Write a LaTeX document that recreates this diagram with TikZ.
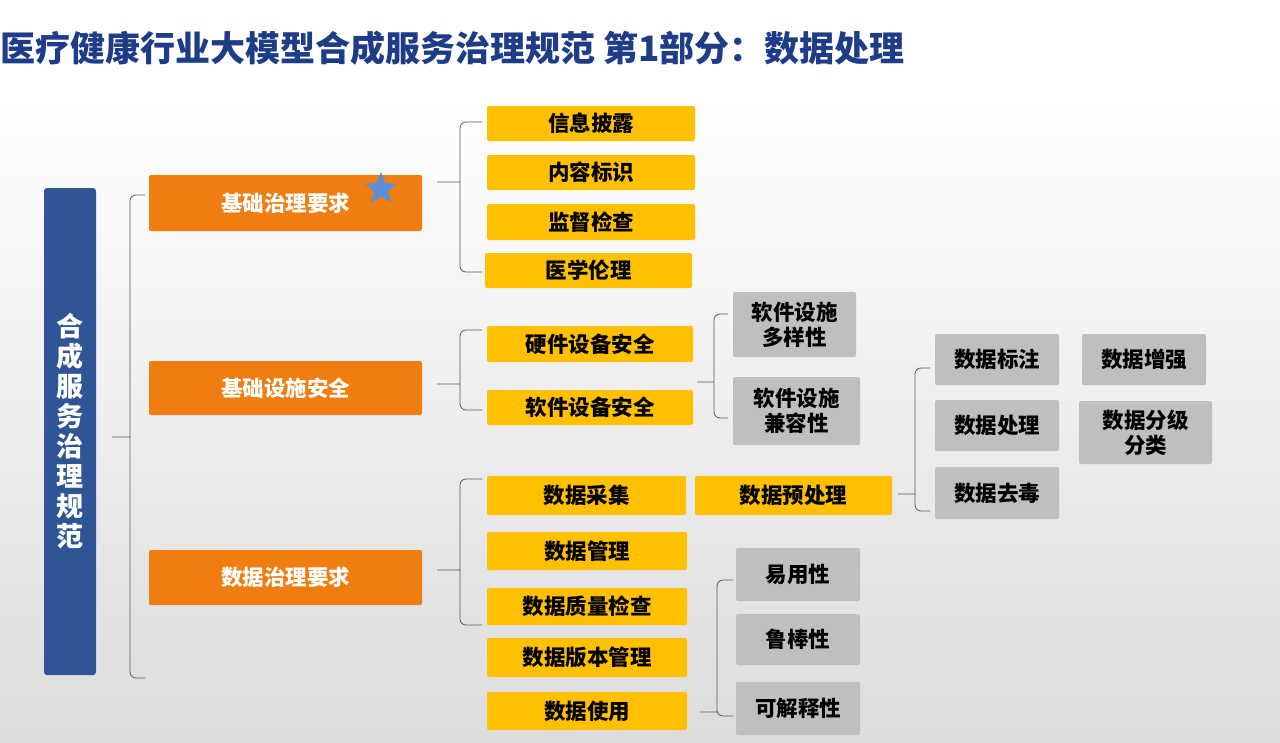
\documentclass[tikz,border=0pt]{standalone}
\usepackage{fontspec}
\setmainfont{Noto Sans CJK SC}
\usetikzlibrary{positioning,shapes.geometric}
\definecolor{titleblue}{HTML}{1F3C88}
\definecolor{barblue}{HTML}{2F5597}
\definecolor{orng}{HTML}{EF7D0F}
\definecolor{yel}{HTML}{FFC000}
\definecolor{gry}{HTML}{BFBFBF}
\definecolor{bgray}{HTML}{DCDCDC}
\definecolor{lnc}{HTML}{595959}
\definecolor{starblue}{HTML}{5B8FD9}
% box from corner (x1,y1) to (x2,y2)
\newcommand{\bx}[7]{\node[#1,minimum width=#4-#2,minimum height=#5-#3] (#6) at ({(#2+#4)/2},{(#3+#5)/2}) {#7};}
% bracket: tip x, tip y, line x, top y, bottom y, end x
\newcommand{\brc}[6]{\draw[bline] (#6,#4) -- (#3,#4) -- (#3,#5) -- (#6,#5) (#3,#2) -- (#1,#2);}
\begin{document}
\begin{tikzpicture}[x=1pt,y=-1pt,
  base/.style={rounded corners=2pt,inner sep=0pt,align=center,font=\bfseries\fontsize{21.5}{25}\selectfont},
  topic/.style={base,fill=orng,text=white},
  item/.style={base,fill=yel,text=black},
  leaf/.style={base,fill=gry,text=black},
  bline/.style={draw=lnc,line width=0.8pt,rounded corners=6pt}]

  \useasboundingbox (0,0) rectangle (1280,742);
  \fill[white] (0,0) rectangle (1280,742);
  \shade[top color=white,bottom color=bgray] (0,95) rectangle (1280,742);

  \node[anchor=west,inner sep=0pt,text=titleblue,font=\bfseries\fontsize{35}{38}\selectfont] (title) at (0,48) {医疗健康行业大模型合成服务治理规范 第1部分：数据处理};

  \fill[barblue,rounded corners=3pt] (44,188) rectangle (96,675);
  \node[text=white,align=center,font=\bfseries\fontsize{27}{30}\selectfont] (root) at (70,431) {合\\成\\服\\务\\治\\理\\规\\范};

  \bx{topic}{149}{175}{422}{231}{t1}{基础治理要求}
  \bx{topic}{149}{361}{422}{415}{t2}{基础设施安全}
  \bx{topic}{149}{550}{422}{605}{t3}{数据治理要求}
  \node[star,star points=5,star point ratio=2.3,fill=starblue,inner sep=0pt,minimum size=34pt] (star) at (381,189) {};

  \bx{item}{487}{106}{695}{141}{i1}{信息披露}
  \bx{item}{487}{155}{695}{190}{i2}{内容标识}
  \bx{item}{487}{204}{695}{240}{i3}{监督检查}
  \bx{item}{485}{253}{692}{288}{i4}{医学伦理}
  \bx{item}{487}{326}{693}{362}{i5}{硬件设备安全}
  \bx{item}{487}{390}{693}{425}{i6}{软件设备安全}
  \bx{item}{487}{476}{686}{515}{i7}{数据采集}
  \bx{item}{695}{476}{892}{515}{i8}{数据预处理}
  \bx{item}{487}{532}{687}{570}{i9}{数据管理}
  \bx{item}{487}{588}{687}{625}{i10}{数据质量检查}
  \bx{item}{487}{638}{687}{677}{i11}{数据版本管理}
  \bx{item}{487}{692}{687}{730}{i12}{数据使用}

  \bx{leaf}{733}{292}{856}{357}{g1}{软件设施\\多样性}
  \bx{leaf}{733}{377}{860}{445}{g2}{软件设施\\兼容性}
  \bx{leaf}{935}{334}{1059}{385}{g3}{数据标注}
  \bx{leaf}{935}{400}{1059}{451}{g4}{数据处理}
  \bx{leaf}{935}{467}{1059}{519}{g5}{数据去毒}
  \bx{leaf}{1082}{334}{1206}{385}{g6}{数据增强}
  \bx{leaf}{1079}{401}{1212}{464}{g7}{数据分级\\分类}
  \bx{leaf}{736}{548}{860}{601}{g8}{易用性}
  \bx{leaf}{736}{614}{860}{665}{g9}{鲁棒性}
  \bx{leaf}{736}{682}{860}{735}{g10}{可解释性}

  % brackets
  \brc{112}{437}{130}{195}{678}{145}
  \brc{437}{182}{460}{122}{272}{482}
  \brc{437}{384}{460}{330}{410}{482}
  \brc{437}{570}{460}{479}{625}{482}
  \brc{697}{382}{714}{314}{418}{728}
  \brc{898}{494}{915}{368}{511}{930}
  \brc{700}{712}{717}{580}{716}{733}
\end{tikzpicture}
\end{document}
